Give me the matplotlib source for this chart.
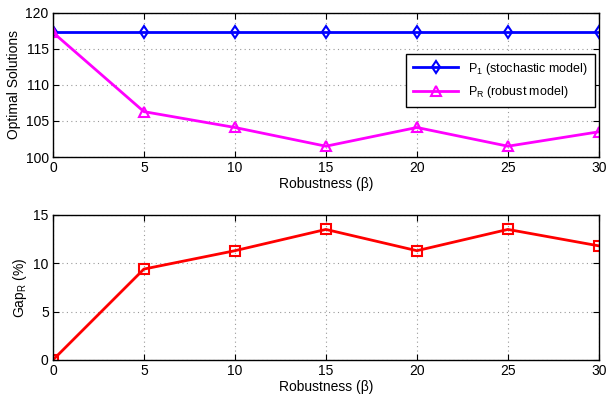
import numpy as np
import matplotlib
matplotlib.use('Agg')
import matplotlib.pyplot as plt

plt.rcParams['font.family'] = ['Liberation Sans', 'DejaVu Sans']
plt.rcParams['font.size'] = 10
plt.rcParams['mathtext.default'] = 'regular'

beta = [0, 5, 10, 15, 20, 25, 30]
p1 = [117.3, 117.3, 117.3, 117.3, 117.3, 117.3, 117.3]
pr = [117.3, 106.3, 104.1, 101.5, 104.1, 101.5, 103.5]
gap = [0, 9.4, 11.3, 13.5, 11.3, 13.5, 11.8]

fig = plt.figure(figsize=(6.08, 3.98), dpi=100)
ax1 = fig.add_axes([0.087, 0.6055, 0.898, 0.362])
ax2 = fig.add_axes([0.087, 0.0955, 0.898, 0.3645])

ax1.plot(beta, p1, '-d', color='blue', lw=2, ms=6, mfc='none', mew=1.5,
         label='P$_1$ (stochastic model)')
ax1.plot(beta, pr, '-^', color='magenta', lw=2, ms=7, mfc='none', mew=1.5,
         label='P$_R$ (robust model)')
ax1.set_ylim(100, 120)
ax1.set_yticks([100, 105, 110, 115, 120])
ax1.set_ylabel('Optimal Solutions', labelpad=3)
leg = ax1.legend(loc='upper right', bbox_to_anchor=(0.993, 0.715), borderaxespad=0,
                 fancybox=False, framealpha=1, edgecolor='black', borderpad=0.55,
                 handlelength=3.6, labelspacing=0.6, fontsize=9)
leg.get_frame().set_linewidth(1.0)

ax2.plot(beta, gap, '-s', color='red', lw=2, ms=6.5, mfc='none', mew=1.5)
ax2.set_ylim(0, 15)
ax2.set_yticks([0, 5, 10, 15])
ax2.set_ylabel('Gap$_R$ (%)', labelpad=3)

for ax in (ax1, ax2):
    ax.set_xlim(0, 30)
    ax.set_xticks(beta)
    ax.set_xlabel('Robustness (\u03b2)', labelpad=1)
    ax.grid(True, linestyle=(0, (1, 3)), color='#999999', lw=0.8)
    ax.tick_params(direction='in', top=True, right=True, length=4, pad=3)
    for s in ax.spines.values():
        s.set_linewidth(1.0)

fig.savefig('out.png', dpi=100)
